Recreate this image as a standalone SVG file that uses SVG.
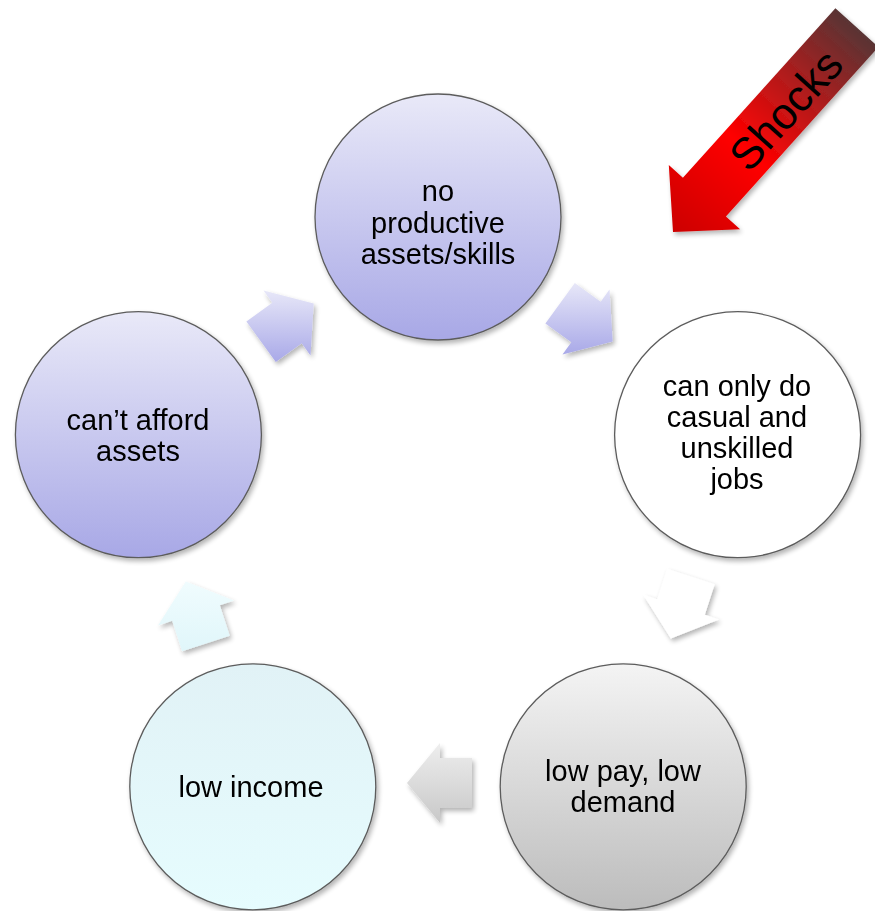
<svg xmlns="http://www.w3.org/2000/svg" width="875" height="911" viewBox="0 0 875 911">
  <defs>
    <style>
      .ring { stroke: #5c5c5c; stroke-width: 1.3; }
      .lbl { font-family: "Liberation Sans", Arial, sans-serif; font-size: 29px; fill: #000; text-anchor: middle; }
      .shock { font-family: "Liberation Sans", Arial, sans-serif; font-size: 44px; fill: #000; text-anchor: middle; }
    </style>
    <!-- circle fills -->
    <linearGradient id="gLav" x1="0" y1="0" x2="0" y2="1">
      <stop offset="0" stop-color="#e9e9f8"/>
      <stop offset="1" stop-color="#a8a8e6"/>
    </linearGradient>
    <linearGradient id="gGray" x1="0" y1="0" x2="0" y2="1">
      <stop offset="0" stop-color="#f4f4f4"/>
      <stop offset="1" stop-color="#bcbcbc"/>
    </linearGradient>
    <linearGradient id="gCyan" x1="0" y1="0" x2="0" y2="1">
      <stop offset="0" stop-color="#e1f2f6"/>
      <stop offset="1" stop-color="#e6fcfe"/>
    </linearGradient>
    <!-- arrow fills -->
    <linearGradient id="aLav" x1="0" y1="0" x2="0" y2="1">
      <stop offset="0" stop-color="#e7e7f8"/>
      <stop offset="1" stop-color="#a9a9e8"/>
    </linearGradient>
    <linearGradient id="aGray" x1="0" y1="0" x2="0" y2="1">
      <stop offset="0" stop-color="#eeeeee"/>
      <stop offset="1" stop-color="#c8c8c8"/>
    </linearGradient>
    <linearGradient id="aCyan" x1="0" y1="0" x2="0" y2="1">
      <stop offset="0" stop-color="#f0fcfe"/>
      <stop offset="1" stop-color="#e0f6fa"/>
    </linearGradient>
    <linearGradient id="aRed" gradientUnits="userSpaceOnUse" x1="857" y1="28" x2="673" y2="232">
      <stop offset="0" stop-color="#593434"/>
      <stop offset="0.3" stop-color="#b01c1c"/>
      <stop offset="0.6" stop-color="#ff0000"/>
      <stop offset="1" stop-color="#cc0000"/>
    </linearGradient>
    <filter id="shadow" x="-20%" y="-20%" width="140%" height="140%">
      <feGaussianBlur in="SourceAlpha" stdDeviation="2.5"/>
      <feOffset dx="2" dy="3"/>
      <feComponentTransfer><feFuncA type="linear" slope="0.3"/></feComponentTransfer>
      <feMerge><feMergeNode/><feMergeNode in="SourceGraphic"/></feMerge>
    </filter>
  </defs>

  <rect width="875" height="911" fill="#ffffff"/>

  <!-- cycle arrows -->
  <g id="connectors" filter="url(#shadow)">
    <polygon fill="url(#aLav)" points="574.8,283.0 600.7,301.8 609.5,289.6 612.7,341.4 562.5,354.4 571.3,342.2 545.4,323.4"/>
    <polygon fill="#ffffff" points="714.7,584.3 704.8,614.7 719.0,619.4 670.8,638.4 643.0,594.6 657.2,599.3 667.1,568.8"/>
    <polygon fill="url(#aGray)" points="472,808 440,808 440,823 407,783 440,743 440,758 472,758"/>
    <polygon fill="url(#aCyan)" points="182.1,651.2 172.2,620.7 158.0,625.4 185.8,581.6 234.0,600.6 219.8,605.3 229.7,635.7"/>
    <polygon fill="url(#aLav)" points="246.4,321.6 272.3,302.8 263.5,290.6 313.7,303.6 310.5,355.4 301.7,343.2 275.8,362.0"/>
  </g>

  <g id="node-assets" filter="url(#shadow)">
    <circle class="ring" cx="438" cy="217" r="123" fill="url(#gLav)"/>
    <text class="lbl"><tspan x="438" y="201">no</tspan><tspan x="438" y="232.5">productive</tspan><tspan x="438" y="264">assets/skills</tspan></text>
  </g>

  <g id="node-jobs" filter="url(#shadow)">
    <circle class="ring" cx="737.6" cy="434.7" r="123" fill="#ffffff"/>
    <text class="lbl"><tspan x="737" y="396">can only do</tspan><tspan x="737" y="427">casual and</tspan><tspan x="737" y="458">unskilled</tspan><tspan x="737" y="489">jobs</tspan></text>
  </g>

  <g id="node-pay" filter="url(#shadow)">
    <circle class="ring" cx="623.2" cy="786.8" r="123" fill="url(#gGray)"/>
    <text class="lbl"><tspan x="623" y="781">low pay, low</tspan><tspan x="623" y="812">demand</tspan></text>
  </g>

  <g id="node-income" filter="url(#shadow)">
    <circle class="ring" cx="252.8" cy="786.8" r="123" fill="url(#gCyan)"/>
    <text class="lbl" x="251" y="797">low income</text>
  </g>

  <g id="node-afford" filter="url(#shadow)">
    <circle class="ring" cx="138.4" cy="434.7" r="123" fill="url(#gLav)"/>
    <text class="lbl"><tspan x="138" y="430">can’t afford</tspan><tspan x="138" y="461">assets</tspan></text>
  </g>

  <!-- external shocks arrow -->
  <g id="shocks">
    <polygon filter="url(#shadow)" fill="url(#aRed)" points="673,232 668.8,165.0 682.9,177.7 835.4,8.3 878.4,47.1 725.9,216.5 740.1,229.2"/>
    <text class="shock" transform="translate(786,110) rotate(-48)" y="15">Shocks</text>
  </g>
</svg>
